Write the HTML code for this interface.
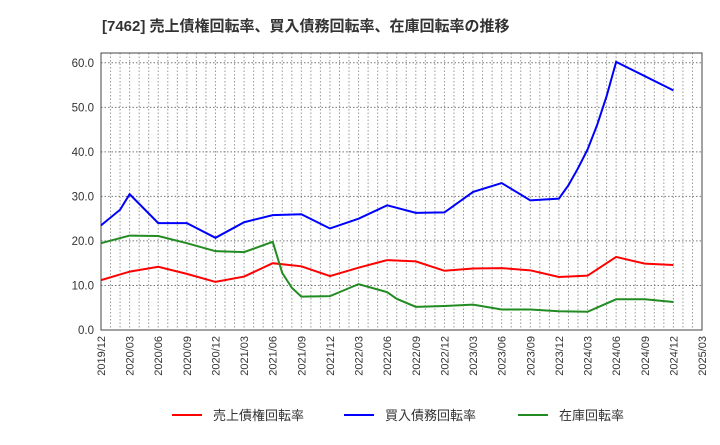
<!DOCTYPE html>
<html><head><meta charset="utf-8"><style>
body{margin:0;background:#fff;font-family:"Liberation Sans","Noto Sans CJK JP",sans-serif;}
</style></head><body>
<svg id="c" width="720" height="440" xmlns="http://www.w3.org/2000/svg">
<text x="102" y="31" font-size="15" font-weight="bold" fill="#333" font-family="Liberation Sans, Noto Sans CJK JP, sans-serif">[7462]  売上債権回転率、買入債務回転率、在庫回転率の推移</text>
</svg>
<script>
const xTicks=["2019/12","2020/03","2020/06","2020/09","2020/12","2021/03","2021/06","2021/09","2021/12","2022/03","2022/06","2022/09","2022/12","2023/03","2023/06","2023/09","2023/12","2024/03","2024/06","2024/09","2024/12","2025/03"];
const yTicks=[0,10,20,30,40,50,60];
const redDates=["2019/12","2020/03","2020/06","2020/09","2020/12","2021/03","2021/06","2021/09","2021/12","2022/03","2022/06","2022/09","2022/12","2023/03","2023/06","2023/09","2023/12","2024/03","2024/06","2024/09","2024/12"];
const redVals=[11.2,13.1,14.2,12.6,10.8,12.0,15.0,14.3,12.1,14.0,15.7,15.4,13.3,13.8,13.9,13.4,11.9,12.2,16.4,14.9,14.6];
const blueDates=["2019/12","2020/02","2020/03","2020/06","2020/09","2020/12","2021/03","2021/06","2021/09","2021/12","2022/03","2022/06","2022/09","2022/12","2023/03","2023/06","2023/09","2023/12","2024/01","2024/02","2024/03","2024/04","2024/05","2024/06","2024/12"];
const blueVals=[23.5,27.0,30.5,24.0,24.0,20.7,24.2,25.8,26.0,22.8,25.0,28.0,26.3,26.4,31.0,33.0,29.1,29.5,32.5,36.3,40.5,46.0,52.5,60.2,53.8];
const greenDates=["2019/12","2020/03","2020/06","2020/09","2020/12","2021/03","2021/06","2021/07","2021/08","2021/09","2021/12","2022/03","2022/06","2022/07","2022/09","2022/12","2023/03","2023/06","2023/09","2023/12","2024/03","2024/06","2024/09","2024/12"];
const greenVals=[19.5,21.2,21.1,19.5,17.7,17.5,19.8,12.8,9.5,7.5,7.6,10.3,8.5,7.0,5.2,5.4,5.7,4.6,4.6,4.2,4.1,6.9,6.9,6.3];
const L=101,R=702,T=53,B=330,NM=63;
const svg=document.getElementById('c');const NS="http://www.w3.org/2000/svg";
function mi(d){const[y,m]=d.split('/').map(Number);return (y-2019)*12+m-12;}
function xs(d){return L+mi(d)*(R-L)/NM;}
function ys(v){return B-v*(B-T-4)/61.3;}
function mk(t,a){const e=document.createElementNS(NS,t);for(const k in a)e.setAttribute(k,a[k]);svg.appendChild(e);return e;}
for(let i=0;i<=NM;i++){const x=L+i*(R-L)/NM;const g=mk('line',{x1:x,x2:x,y1:T,y2:B,stroke:'#999','stroke-dasharray':'1.5,2','stroke-width':1});

}
yTicks.forEach(v=>{const y=ys(v);const g=mk('line',{x1:L,x2:R,y1:y,y2:y,stroke:'#777','stroke-dasharray':'1.5,2','stroke-width':1});


const t=mk('text',{x:L-7,y:y+4,'text-anchor':'end','font-size':11.5,fill:'#333'});t.textContent=v.toFixed(1);

});
xTicks.forEach(d=>{const x=xs(d);const t=mk('text',{x:x+4,y:B+6,'text-anchor':'end','font-size':11,fill:'#333',transform:`rotate(-90 ${x+4} ${B+6})`});t.textContent=d;

});
const box=mk('rect',{x:L,y:T,width:R-L,height:B-T,fill:'none',stroke:'#444','stroke-width':1});


function series(dates,vals,col,name){const p=mk('polyline',{points:dates.map((d,i)=>xs(d)+','+ys(vals[i])).join(' '),fill:'none',stroke:col,'stroke-width':2});

}
series(redDates,redVals,'#ff0000','receivables-turnover-line');
series(blueDates,blueVals,'#0000ff','payables-turnover-line');
series(greenDates,greenVals,'#228b22','inventory-turnover-line');
const leg=[['売上債権回転率','#ff0000',172,'legend-receivables'],['買入債務回転率','#0000ff',344,'legend-payables'],['在庫回転率','#228b22',518,'legend-inventory']];
leg.forEach(([txt,col,x,n])=>{const l=mk('line',{x1:x,x2:x+30,y1:415,y2:415,stroke:col,'stroke-width':2});


const t=mk('text',{x:x+41,y:420,'font-size':13,fill:'#333'});t.textContent=txt;

});
</script>
</body></html>
